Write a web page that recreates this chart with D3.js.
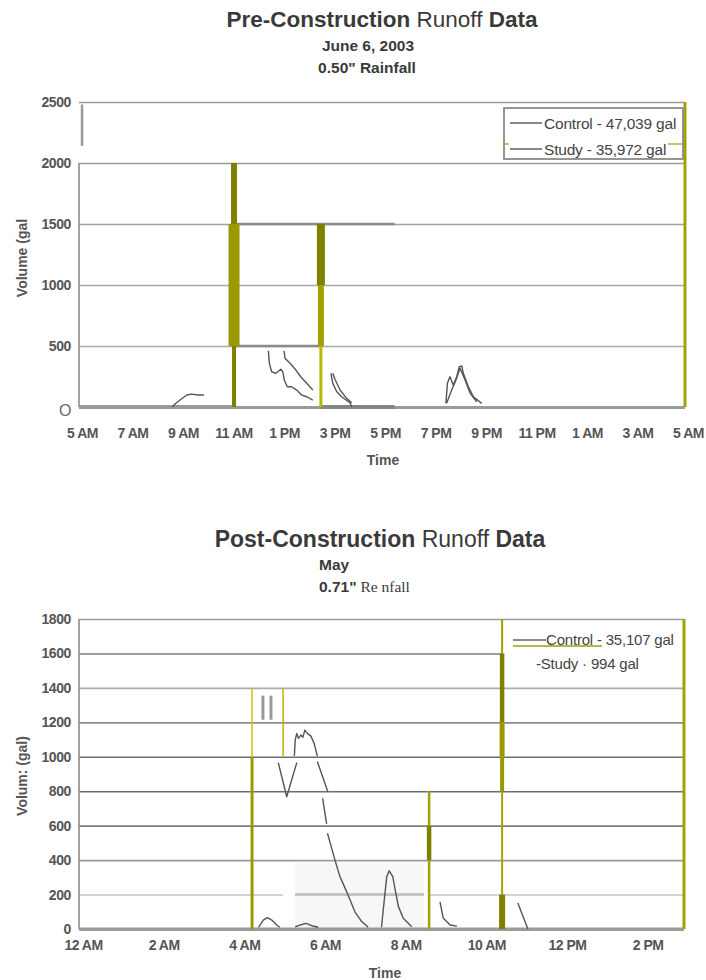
<!DOCTYPE html>
<html>
<head>
<meta charset="utf-8">
<script src="https://cdn.jsdelivr.net/npm/d3@7/dist/d3.min.js"></script>
<style>
  body { margin: 0; background: #fff; }
  svg { display: block; }
  text { font-family: "Liberation Sans", Arial, sans-serif; }
</style>
</head>
<body>
<svg width="706" height="980"></svg>
<script>
// ---- pre-construction (hours after 5 AM, June 6 2003) ----
const preHourTicks = [0, 2, 4, 6, 8, 10, 12, 14, 16, 18, 20, 22, 24];
const preHourLabels = ["5 AM", "7 AM", "9 AM", "11 AM", "1 PM", "3 PM", "5 PM", "7 PM", "9 PM", "11 PM", "1 AM", "3 AM", "5 AM"];
const preVolumeTicks = [0, 500, 1000, 1500, 2000, 2500];
const preLegend = ["Control - 47,039 gal", "Study - 35,972 gal"];
// [hour, gallons], null = gap in the scan
const preControl = [
  [3.70, 0], [3.80, 25], [4.00, 57], [4.27, 98], [4.46, 106], [4.72, 98], [4.95, 98], null,
  [7.50, 461], [7.54, 358], [7.63, 289], [7.80, 276], [7.99, 309], [8.07, 289], [8.13, 221], [8.25, 166],
  [8.42, 166], [8.62, 139], [8.82, 98], [9.02, 84], [9.26, 57], null,
  [9.98, 276], [10.05, 194], [10.21, 125], [10.40, 84], [10.73, 35], [10.81, 0], null,
  [14.53, 30], [14.59, 194], [14.69, 248], [14.82, 180], [14.96, 248], [15.06, 330], [15.16, 336],
  [15.22, 276], [15.42, 166], [15.62, 84], [15.95, 30]
];
const preStudy = [
  [8.12, 461], [8.16, 399], [8.36, 358], [8.59, 303], [8.78, 248], [9.02, 194], [9.26, 139], null,
  [10.05, 276], [10.15, 221], [10.34, 139], [10.60, 71], [10.80, 35], null,
  [14.56, 30], [14.76, 139], [14.93, 221], [15.09, 317], [15.29, 221], [15.49, 112], [15.75, 43]
];

// ---- post-construction (hours after midnight, May) ----
const postHourTicks = [0, 2, 4, 6, 8, 10, 12, 14];
const postHourLabels = ["12 AM", "2 AM", "4 AM", "6 AM", "8 AM", "10 AM", "12 PM", "2 PM"];
const postVolumeTicks = [0, 200, 400, 600, 800, 1000, 1200, 1400, 1600, 1800];
const postLegend = ["Control - 35,107 gal", "-Study \u00b7 994 gal"];
const postControl = [
  [4.94, 966], [5.15, 768], [5.40, 966], null,
  [5.34, 1004], [5.36, 1097], [5.40, 1136], [5.44, 1107], [5.50, 1126], [5.55, 1113], [5.60, 1155],
  [5.66, 1136], [5.75, 1120], [5.83, 1078], [5.91, 1004], null,
  [5.91, 972], [6.17, 797], null,
  [6.04, 759], [6.14, 610], null,
  [6.16, 556], [6.37, 381], [6.47, 304], [6.60, 236], [6.72, 170], [6.84, 100], [7.01, 43], [7.17, 10], null,
  [7.50, 10], [7.56, 149], [7.63, 304], [7.69, 338], [7.78, 304], [7.84, 226], [7.92, 130], [8.04, 62], [8.25, 13], null,
  [8.95, 157], [9.03, 64], [9.20, 23], [9.37, 17]
];
const postStudy = [
  [4.45, 10], [4.57, 52], [4.67, 66], [4.78, 52], [4.90, 23], [4.98, 10], null,
  [5.36, 13], [5.48, 23], [5.63, 33], [5.77, 19], [5.93, 10], null,
  [10.88, 151], [11.13, 0]
];

// scan damage on the copy: vertical bands [hour, from, to, width, colour]
const preBands = [
  [6.14, 1500, 2000, 6, "#7f7f00"], [6.14, 500, 1500, 11, "#999900"], [6.14, 0, 500, 4, "#808000"],
  [9.58, 1000, 1500, 8, "#808000"], [9.58, 500, 1000, 6, "#a0a000"], [9.58, 0, 500, 3, "#b8b800"],
  [24, 0, 2500, 3, "#a3a300"], [0.12, 2140, 2480, 2.5, "#9a9a9a"]
];
const preStreaks = [ // horizontal [value, fromHour, toHour, width, colour]
  [1500, 6.14, 12.5, 2.5, "#8c8c8c"], [500, 6.14, 9.58, 2.5, "#8c8c8c"],
  [0, 0, 6.14, 4, "#9a9a9a"], [0, 9.58, 12.5, 4, "#868686"]
];
const postBands = [
  [4.29, 0, 1000, 3, "#9a9a00"], [4.29, 1000, 1400, 1.5, "#c8c800"], [5.06, 1000, 1400, 1.5, "#b8b800"],
  [8.68, 0, 800, 2.5, "#a3a300"], [8.68, 400, 600, 4.5, "#808000"],
  [10.49, 1600, 1800, 2, "#a0a000"], [10.49, 1200, 1600, 4.5, "#7f7f00"], [10.49, 1000, 1200, 5, "#9a9a00"],
  [10.49, 800, 1000, 4, "#999900"], [10.49, 200, 800, 2, "#a3a300"], [10.49, 0, 200, 6, "#7f7f00"],
  [15, 0, 1800, 3, "#a3a300"],
  [4.56, 1215, 1355, 3, "#9a9a9a"], [4.76, 1215, 1355, 3, "#9a9a9a"]
];
const postStreaks = [
  [200, 5.06, 5.36, 4, "#ffffff"], [200, 8.55, 8.68, 4, "#ffffff"],
  [200, 5.36, 8.55, 3, "#c4c4c4"], [0, 0, 15, 3, "#9a9a9a"]
];

const svg = d3.select("svg");

function title(lines) {
  lines.forEach(l => {
    const t = svg.append("text").attr("x", l.x).attr("y", l.y)
      .attr("text-anchor", l.anchor || "middle").attr("fill", "#3a3a3a");
    l.parts.forEach(p => t.append("tspan").text(p[0])
      .attr("font-weight", p[1] ? "bold" : "normal")
      .attr("font-size", l.size)
      .attr("font-family", p[2] || null));
  });
}

function panel(c) {
  const g = svg.append("g");
  const x = d3.scaleLinear().domain(c.xDomain).range([c.left, c.right]);
  const y = d3.scaleLinear().domain(c.yDomain).range([c.bottom, c.top]);

  if (c.patch) {
    g.append("rect").attr("x", x(c.patch[0])).attr("width", x(c.patch[1]) - x(c.patch[0]))
      .attr("y", y(c.patch[3])).attr("height", y(c.patch[2]) - y(c.patch[3])).attr("fill", "#f7f7f7");
  }

  // gridlines + value labels
  const ya = g.append("g").attr("transform", `translate(${c.left},0)`)
    .call(d3.axisLeft(y).tickValues(c.yTicks).tickSize(-(c.right - c.left)).tickPadding(8)
      .tickFormat(d3.format("d")));
  ya.select(".domain").remove();
  ya.selectAll(".tick line").attr("stroke", d => c.gridColor[d] || "#a0a0a0")
    .attr("stroke-width", d => d === 0 ? 3 : 1.6);
  ya.selectAll(".tick text").attr("fill", "#555").attr("font-size", 14)
    .attr("font-weight", "bold").attr("letter-spacing", -0.4);
  if (c.zeroO) {
    ya.selectAll(".tick text").filter(d => d === 0).text("O")
      .attr("font-family", "'Liberation Serif', 'Times New Roman', serif")
      .attr("font-weight", "normal").attr("font-size", 16).attr("dy", "0.55em").attr("fill", "#666");
  }

  // left frame line
  g.append("line").attr("x1", c.left).attr("x2", c.left)
    .attr("y1", y(c.frameTop)).attr("y2", y(0)).attr("stroke", "#8c8c8c").attr("stroke-width", 1.6);

  // time labels
  const xa = g.append("g").attr("transform", `translate(0,${c.bottom})`)
    .call(d3.axisBottom(x).tickValues(c.xTicks).tickSize(0).tickPadding(c.labelPad)
      .tickFormat((d, i) => c.xLabels[i]));
  xa.select(".domain").remove();
  xa.selectAll(".tick text").attr("fill", "#555").attr("font-size", 14).attr("dx", c.labelShift)
    .attr("font-weight", "bold").attr("letter-spacing", -0.5);

  // streaks from the copy
  g.selectAll(".streak").data(c.streaks).join("line")
    .attr("x1", d => x(d[1])).attr("x2", d => x(d[2]))
    .attr("y1", d => y(d[0])).attr("y2", d => y(d[0]))
    .attr("stroke", d => d[4]).attr("stroke-width", d => d[3]);

  // runoff lines
  const line = d3.line().defined(d => d !== null).x(d => x(d[0])).y(d => y(d[1]));
  [c.control, c.study].forEach(s => {
    g.append("path").datum(s).attr("d", line).attr("fill", "none")
      .attr("stroke", "#555").attr("stroke-width", 1.4).attr("stroke-linejoin", "round");
  });

  g.selectAll(".band").data(c.bands).join("line")
    .attr("x1", d => x(d[0])).attr("x2", d => x(d[0]))
    .attr("y1", d => y(d[1])).attr("y2", d => y(d[2]))
    .attr("stroke", d => d[4]).attr("stroke-width", d => d[3]);

  // axis titles
  g.append("text").attr("transform", `translate(${c.yTitleX},${c.yTitleY}) rotate(-90)`)
    .attr("text-anchor", "middle").attr("font-size", 14).attr("font-weight", "bold").attr("fill", "#555")
    .text(c.yTitle);
  g.append("text").attr("x", c.xTitleX).attr("y", c.xTitleY).attr("text-anchor", "middle")
    .attr("font-size", 14).attr("font-weight", "bold").attr("fill", "#555").text("Time");

  return { g, x, y };
}

// ---------- top chart ----------
title([
  { x: 382, y: 27, size: 22.5, parts: [["Pre-Construction", 1], [" Runoff", 0], [" Data", 1]] },
  { x: 368, y: 51, size: 15.5, parts: [["June 6, 2003", 1]] },
  { x: 367, y: 73, size: 15.5, parts: [["0.50\" Rainfall", 1]] }
]);

const pre = panel({
  xDomain: [0, 24], yDomain: [0, 2500], left: 79, right: 685, top: 102, bottom: 407,
  xTicks: preHourTicks, xLabels: preHourLabels, yTicks: preVolumeTicks, frameTop: 2000,
  gridColor: { 0: "#9a9a9a", 500: "#ababab", 1000: "#a8a8a8", 1500: "#a0a0a0", 2000: "#9a9a9a", 2500: "#9a9a9a" },
  zeroO: true, labelPad: 21, labelShift: 3,
  control: preControl, study: preStudy, bands: preBands, streaks: preStreaks,
  yTitle: "Volume (gal", yTitleX: 27, yTitleY: 258, xTitleX: 383, xTitleY: 465
});

// legend box
const lg1 = svg.append("g");
lg1.append("clipPath").attr("id", "lgclip").append("rect")
  .attr("x", 504).attr("y", 108).attr("width", 179).attr("height", 51);
lg1.append("rect").attr("x", 504).attr("y", 108).attr("width", 179).attr("height", 51)
  .attr("fill", "#fff").attr("stroke", "#8a8a8a").attr("stroke-width", 1.8);
preLegend.forEach((name, i) => {
  const yy = 123 + i * 26;
  lg1.append("line").attr("x1", 510).attr("x2", 542).attr("y1", yy).attr("y2", yy)
    .attr("stroke", "#555").attr("stroke-width", 1.4);
  lg1.append("text").attr("x", 544).attr("y", yy + 5.5).attr("font-size", 15.5).attr("fill", "#444")
    .attr("letter-spacing", -0.2).attr("clip-path", "url(#lgclip)").text(name);
});
lg1.append("line").attr("x1", 503).attr("x2", 509).attr("y1", 144).attr("y2", 144).attr("stroke", "#a0a000").attr("stroke-width", 1.2);
lg1.append("line").attr("x1", 668).attr("x2", 683).attr("y1", 144).attr("y2", 144).attr("stroke", "#a0a000").attr("stroke-width", 1.2);

// ---------- bottom chart ----------
title([
  { x: 380, y: 547, size: 23, parts: [["Post-Construction", 1], [" Runoff", 0], [" Data", 1]] },
  { x: 319, y: 570, size: 15.5, anchor: "start", parts: [["May", 1]] },
  { x: 319, y: 592, size: 15.5, anchor: "start", parts: [["0.71\"", 1], [" Re nfall", 0, "'Liberation Serif', 'Times New Roman', serif"]] }
]);

const post = panel({
  xDomain: [0, 15], yDomain: [0, 1800], left: 79, right: 684, top: 619, bottom: 929,
  xTicks: postHourTicks, xLabels: postHourLabels, yTicks: postVolumeTicks, frameTop: 1800,
  gridColor: { 0: "#9a9a9a", 200: "#c4c4c4", 400: "#9a9a9a", 600: "#7c7c7c", 800: "#6e6e6e", 1000: "#6e6e6e",
               1200: "#8c8c8c", 1400: "#ababab", 1600: "#7c7c7c", 1800: "#9a9a9a" },
  zeroO: false, labelPad: 11, labelShift: 4, patch: [5.36, 8.55, 0, 385],
  control: postControl, study: postStudy, bands: [], streaks: postStreaks,
  yTitle: "Volum: (gal)", yTitleX: 27, yTitleY: 776, xTitleX: 385, xTitleY: 978
});

// legend area covers the 1600 gridline on the right
post.g.insert("rect", "path").attr("x", post.x(10.49)).attr("width", post.x(15) - post.x(10.49))
  .attr("y", post.y(1790)).attr("height", post.y(1450) - post.y(1790)).attr("fill", "#fff");
post.g.selectAll(".band2").data(postBands).join("line")
  .attr("x1", d => post.x(d[0])).attr("x2", d => post.x(d[0]))
  .attr("y1", d => post.y(d[1])).attr("y2", d => post.y(d[2]))
  .attr("stroke", d => d[4]).attr("stroke-width", d => d[3]);

const lg2 = svg.append("g");
lg2.append("line").attr("x1", 513).attr("x2", 546).attr("y1", 640).attr("y2", 640)
  .attr("stroke", "#666").attr("stroke-width", 1.4);
lg2.append("line").attr("x1", 513).attr("x2", 602).attr("y1", 646).attr("y2", 646)
  .attr("stroke", "#a0a000").attr("stroke-width", 1.4);
lg2.append("text").attr("x", 546).attr("y", 645).attr("font-size", 15).attr("fill", "#444")
  .attr("letter-spacing", -0.2).text(postLegend[0]);
lg2.append("text").attr("x", 536).attr("y", 669).attr("font-size", 15).attr("fill", "#444")
  .attr("letter-spacing", -0.2).text(postLegend[1]);
</script>
</body>
</html>
